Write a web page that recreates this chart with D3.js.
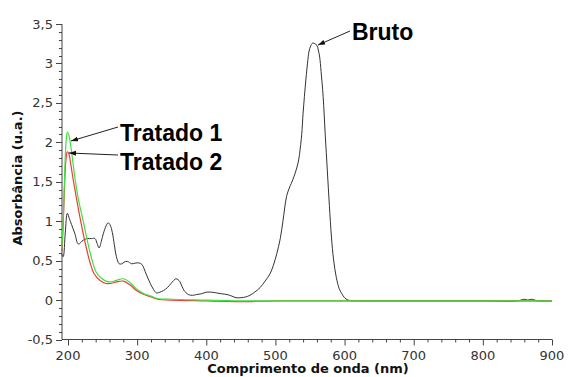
<!DOCTYPE html>
<html><head><meta charset="utf-8">
<script src="https://cdn.jsdelivr.net/npm/d3@7"></script>
<style>body{margin:0;background:#fff}svg{display:block}</style>
</head><body>
<script>
// Bruto (black)
const brutoNm  = [191,193,196,199,202,205,210,215,222,228,234,239,242,245,248,251,255,258,261,264,267,270,274,278,281,286,292,298,303,307,313,319,324,328,333,338,344,349,353,356,359,362,365,368,374,380,386,393,400,408,415,422,430,437,443,450,457,463,470,478,485,492,497,502,507,511,516,520,523,527,530,533,535,538,540,544,547,549,552,554,557,560,562,564,566,569,572,575,578,581,584,588,592,596,600,605,620,650,700,750,800,850,860,865,870,880,900];
const brutoAbs = [0.58,0.55,0.85,1.10,1.03,0.96,0.84,0.71,0.76,0.78,0.78,0.78,0.72,0.66,0.74,0.84,0.94,0.98,0.95,0.86,0.70,0.55,0.46,0.46,0.48,0.49,0.46,0.47,0.47,0.45,0.33,0.21,0.13,0.09,0.10,0.12,0.16,0.21,0.25,0.27,0.26,0.23,0.17,0.12,0.07,0.06,0.07,0.08,0.10,0.10,0.09,0.08,0.07,0.05,0.03,0.03,0.04,0.06,0.10,0.16,0.24,0.33,0.44,0.59,0.78,1.01,1.31,1.42,1.48,1.57,1.65,1.75,1.86,2.10,2.37,2.79,3.05,3.17,3.24,3.26,3.25,3.23,3.17,3.08,2.90,2.58,2.10,1.65,1.20,0.80,0.52,0.29,0.15,0.08,0.03,0.00,-0.01,-0.01,-0.01,-0.01,-0.01,-0.01,0.01,0.0,0.01,-0.01,-0.01];
// Tratado 2 (red)
const trat2Nm  = [191,193,195,197,199,201,204,208,213,219,225,232,238,246,255,261,270,280,290,299,310,320,330,350,400,450,500,600,700,800,900];
const trat2Abs = [0.62,0.95,1.45,1.78,1.88,1.86,1.72,1.50,1.25,0.97,0.72,0.47,0.33,0.25,0.21,0.21,0.23,0.24,0.19,0.12,0.07,0.04,0.01,0.00,-0.01,-0.02,-0.01,-0.01,-0.01,-0.01,-0.01];
// Tratado 1 (green)
const trat1Nm  = [191,193,195,197,199,201,204,210,215,222,228,235,241,248,255,261,270,280,290,299,310,320,330,350,400,450,500,600,700,800,900];
const trat1Abs = [0.65,1.00,1.55,1.98,2.13,2.10,1.95,1.55,1.28,1.00,0.75,0.50,0.35,0.28,0.24,0.23,0.25,0.27,0.22,0.14,0.08,0.05,0.02,0.01,0.00,-0.01,-0.01,-0.01,-0.01,-0.01,-0.01];

const xTicks = [200,300,400,500,600,700,800,900];
const yTicks = [-0.5,0,0.5,1,1.5,2,2.5,3,3.5];
const yTickLabels = ["-0,5","0","0,5","1","1,5","2","2,5","3","3,5"];

const W = 568, H = 377;
const svg = d3.select("body").append("svg").attr("width", W).attr("height", H);

const x = d3.scaleLinear().domain([191.3, 900]).range([62, 552]);
const y = d3.scaleLinear().domain([-0.5, 3.5]).range([339.5, 24]);

const axisColor = "#444";
// X axis
const xg = svg.append("g").attr("transform", `translate(0,${y(-0.5)})`);
xg.append("line").attr("x1", x(191.3)).attr("x2", x(900)).attr("stroke", axisColor);
xg.selectAll("line.minor").data(d3.range(200, 901, 20)).join("line")
  .attr("class","minor")
  .attr("x1", d => x(d)+0.5).attr("x2", d => x(d)+0.5)
  .attr("y1", 0).attr("y2", d => d % 100 === 0 ? 6 : 3).attr("stroke", axisColor);
xg.selectAll("text").data(xTicks).join("text")
  .attr("x", d => x(d)).attr("y", 20).attr("text-anchor","middle")
  .attr("font-family","DejaVu Sans").attr("font-size", 13).attr("fill","#333")
  .text(d => d);

// Y axis
const yg = svg.append("g").attr("transform", `translate(${x(191.3)},0)`);
yg.append("line").attr("y1", y(-0.5)).attr("y2", y(3.5)).attr("stroke", axisColor);
yg.selectAll("line.minor").data(d3.range(-5, 36, 1)).join("line")
  .attr("class","minor")
  .attr("y1", d => Math.round(y(d/10))+0.5).attr("y2", d => Math.round(y(d/10))+0.5)
  .attr("x1", 0).attr("x2", d => d % 5 === 0 ? -6 : -3).attr("stroke", axisColor);
yg.selectAll("text").data(yTicks).join("text")
  .attr("x", -9).attr("y", d => y(d)).attr("dy","0.35em").attr("text-anchor","end")
  .attr("font-family","DejaVu Sans").attr("font-size", 13).attr("fill","#333")
  .text((d,i) => yTickLabels[i]);

// Axis titles
svg.append("text").attr("x", 308).attr("y", 373).attr("text-anchor","middle")
  .attr("font-family","DejaVu Sans").attr("font-weight","bold").attr("font-size", 13).attr("fill","#111")
  .text("Comprimento de onda (nm)");
svg.append("text").attr("transform","translate(22,178) rotate(-90)").attr("text-anchor","middle")
  .attr("font-family","DejaVu Sans").attr("font-weight","bold").attr("font-size", 13).attr("fill","#111")
  .text("Absorbância (u.a.)");

// Lines
const line = d3.line().x(d => x(d[0])).y(d => y(d[1])).curve(d3.curveCatmullRom.alpha(0.5));
function draw(nm, abs, color, w) {
  svg.append("path").datum(nm.map((n,i) => [n, abs[i]]))
    .attr("d", line).attr("fill","none").attr("stroke", color).attr("stroke-width", w);
}
draw(brutoNm, brutoAbs, "#333333", 1);
draw(trat2Nm, trat2Abs, "#ee3b3b", 1.2);
draw(trat1Nm, trat1Abs, "#3fe23f", 1.2);

// Annotations
const defs = svg.append("defs");
defs.append("marker").attr("id","ah").attr("viewBox","0 0 10 10").attr("refX",10).attr("refY",5)
  .attr("markerWidth",7).attr("markerHeight",7).attr("orient","auto")
  .append("path").attr("d","M0,1.5 L10,5 L0,8.5 Z").attr("fill","#111");
function arrow(x1,y1,x2,y2){
  svg.append("line").attr("x1",x1).attr("y1",y1).attr("x2",x2).attr("y2",y2)
    .attr("stroke","#222").attr("stroke-width",1).attr("marker-end","url(#ah)");
}
arrow(118,127,71,141);
arrow(118,155,69,153);
arrow(350,31,318,45);
function label(t, lx, ly){
  svg.append("text").attr("x",lx).attr("y",ly).attr("font-family","Liberation Sans, Arial")
    .attr("font-weight","bold").attr("font-size",23).attr("fill","#000").text(t);
}
label("Tratado 1", 120, 141);
label("Tratado 2", 120, 170);
label("Bruto", 352, 40);
</script>
</body></html>
